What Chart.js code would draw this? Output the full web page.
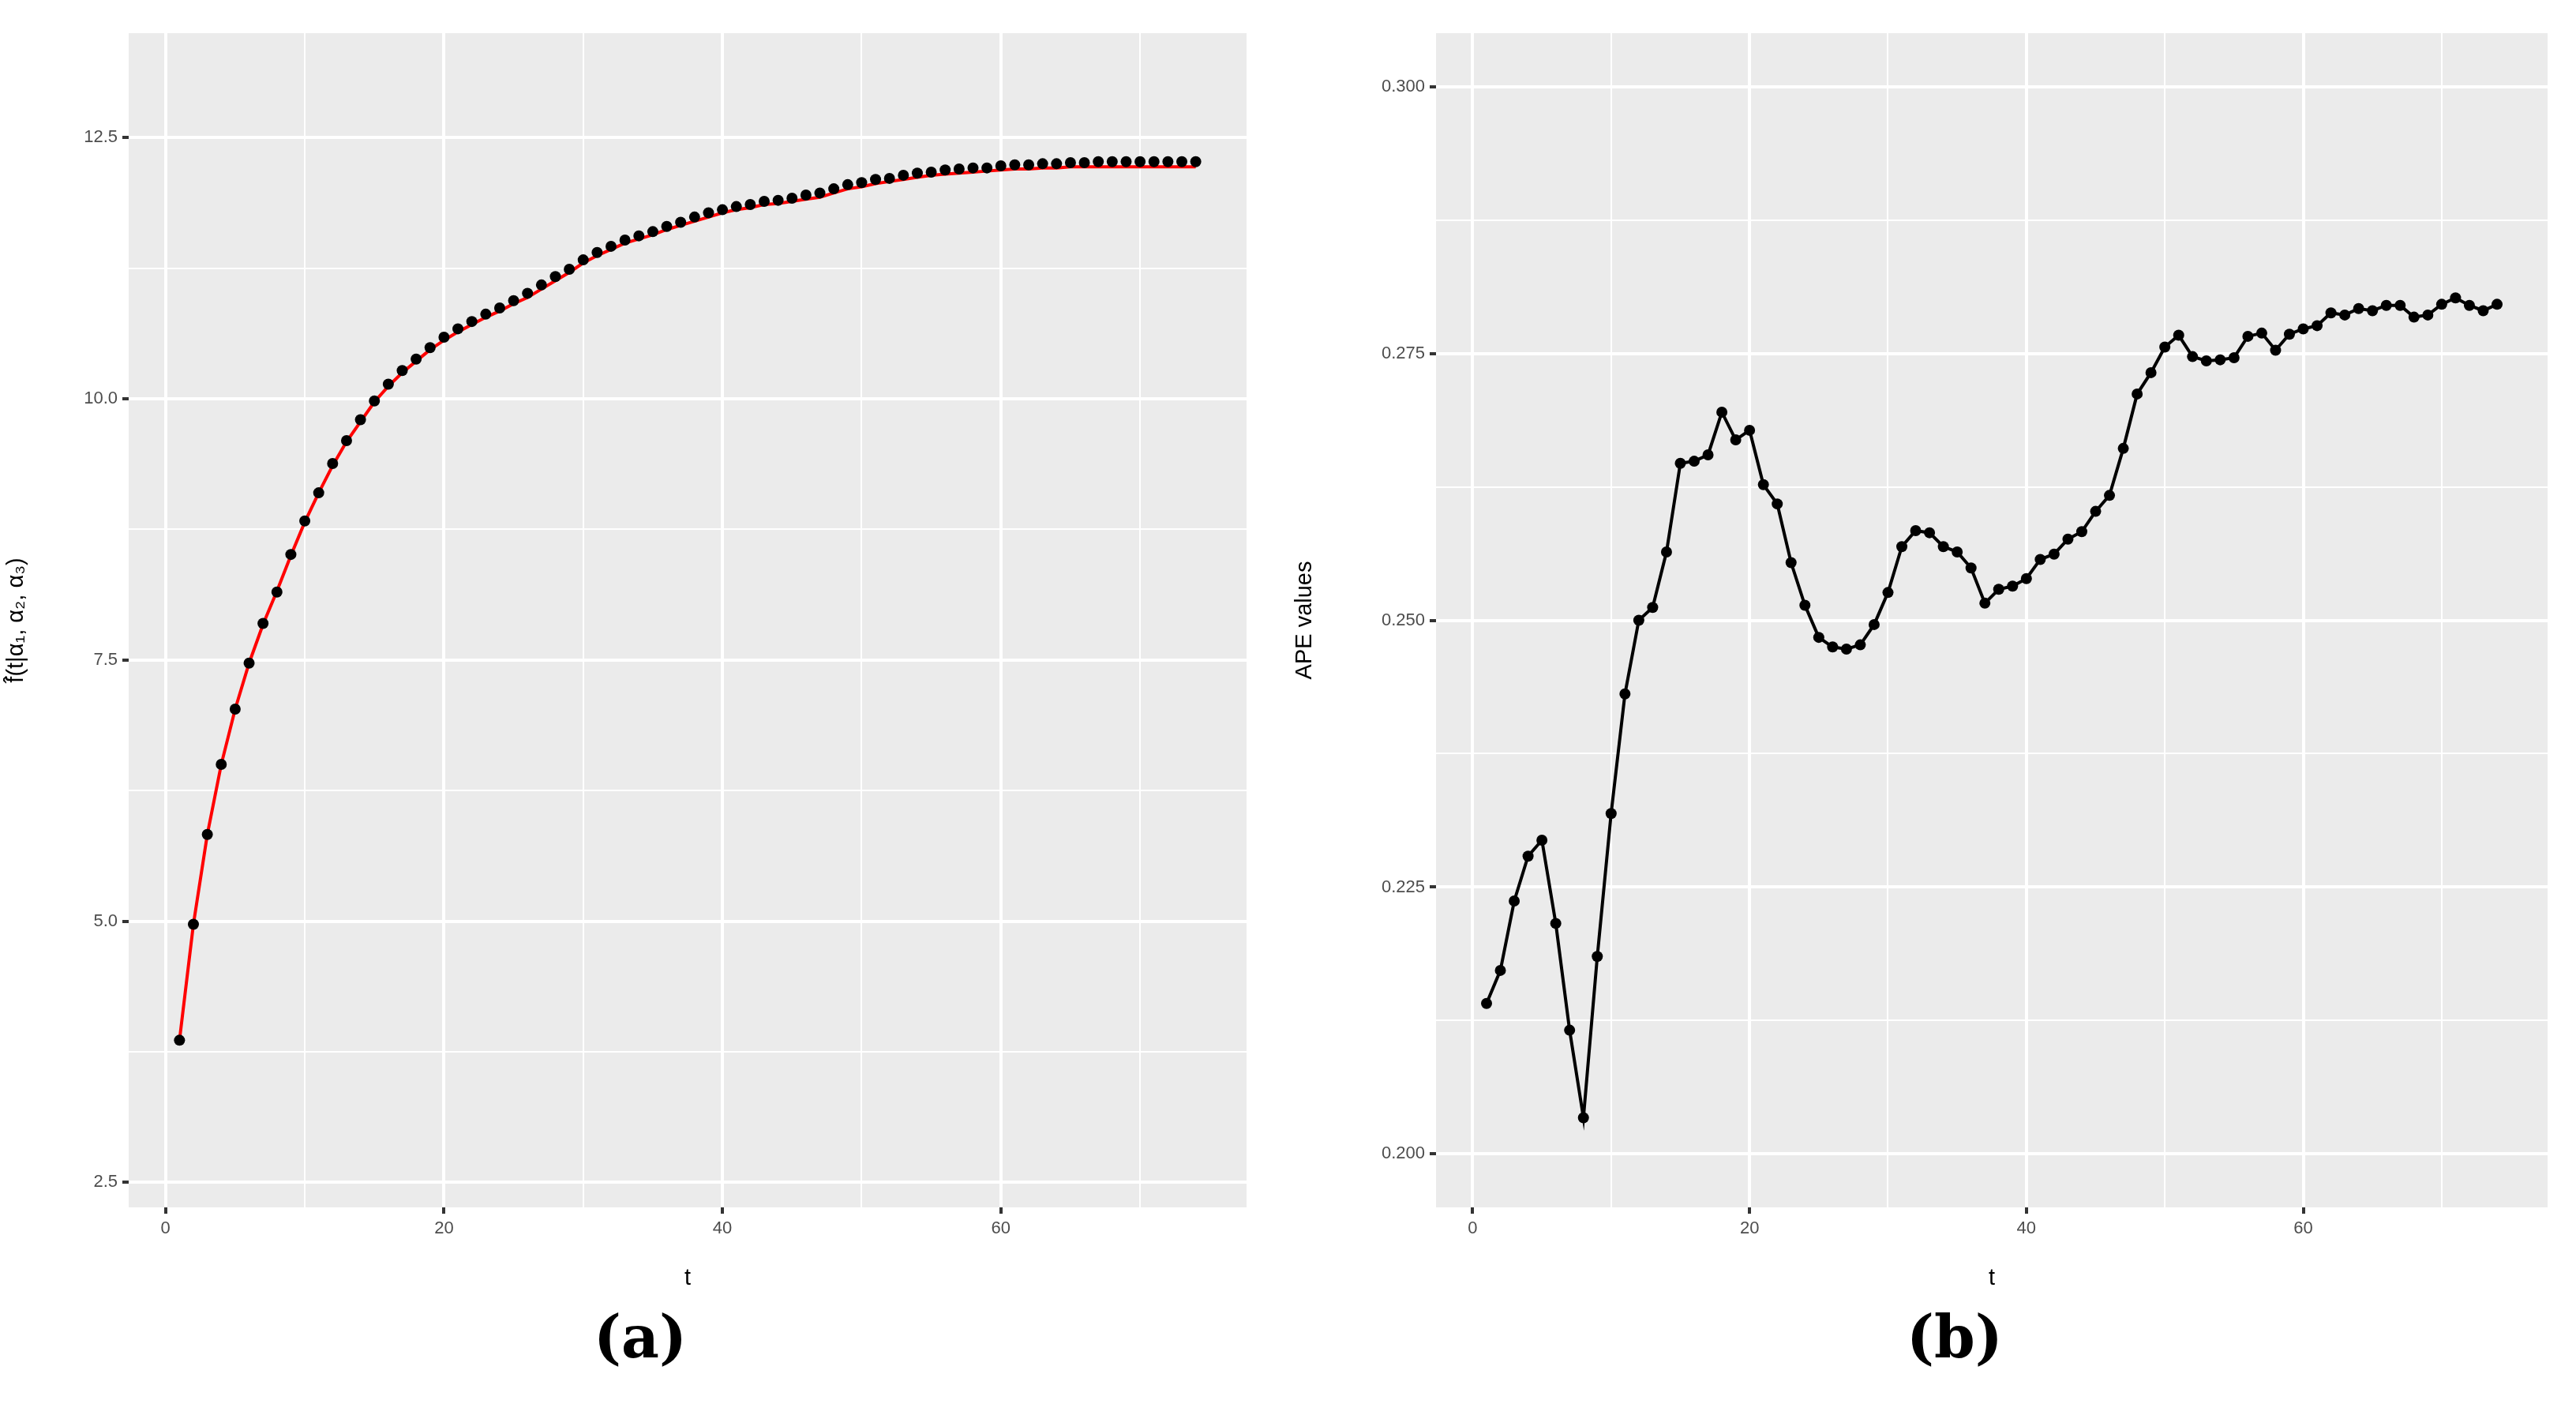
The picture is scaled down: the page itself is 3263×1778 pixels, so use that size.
<!DOCTYPE html>
<html>
<head>
<meta charset="utf-8">
<script src="https://cdn.jsdelivr.net/npm/chart.js@4.4.0/dist/chart.umd.min.js"></script>
<style>
  body { margin: 0; background: #fff; width: 3263px; height: 1778px; position: relative; overflow: hidden; }
  .panel { position: absolute; top: 0; }
  .etiqueta { position: absolute; top: 1650px; font-family: "DejaVu Serif", "Liberation Serif", serif; font-weight: bold; font-size: 74px; transform: translateX(-50%); }
</style>
</head>
<body>
<div class="panel" style="left:0;width:1632px;height:1640px"><canvas id="chartA"></canvas></div>
<div class="panel" style="left:1632px;width:1631px;height:1640px"><canvas id="chartB"></canvas></div>
<div class="etiqueta" style="left:811px">(a)</div>
<div class="etiqueta" style="left:2476px">(b)</div>
<script>
// Datos
const tiempos = Array.from({ length: 74 }, (_, i) => i + 1);

const puntosA = [3.86, 4.97, 5.83, 6.50, 7.03, 7.47, 7.85, 8.15, 8.51, 8.83,
    9.10, 9.38, 9.60, 9.80, 9.98, 10.14, 10.27, 10.38, 10.49, 10.59,
    10.67, 10.74, 10.81, 10.87, 10.94, 11.01, 11.09, 11.17, 11.24, 11.33,
    11.40, 11.46, 11.52, 11.56, 11.60, 11.65, 11.69, 11.74, 11.78, 11.81,
    11.84, 11.86, 11.89, 11.90, 11.92, 11.95, 11.97, 12.01, 12.05, 12.07,
    12.10, 12.11, 12.14, 12.16, 12.17, 12.19, 12.20, 12.21, 12.21, 12.23,
    12.24, 12.24, 12.25, 12.25, 12.26, 12.26, 12.27, 12.27, 12.27, 12.27,
    12.27, 12.27, 12.27, 12.27];

const ajusteA = [3.86, 4.97, 5.83, 6.50, 7.03, 7.47, 7.84, 8.16, 8.50, 8.82,
    9.10, 9.36, 9.59, 9.78, 9.97, 10.12, 10.25, 10.36, 10.47, 10.56,
    10.64, 10.71, 10.78, 10.84, 10.91, 10.97, 11.05, 11.13, 11.21, 11.30,
    11.37, 11.43, 11.49, 11.53, 11.57, 11.62, 11.66, 11.70, 11.74, 11.78,
    11.81, 11.83, 11.86, 11.87, 11.89, 11.91, 11.93, 11.97, 12.01, 12.03,
    12.06, 12.08, 12.10, 12.12, 12.14, 12.15, 12.16, 12.17, 12.18, 12.19,
    12.20, 12.20, 12.21, 12.21, 12.22, 12.22, 12.22, 12.22, 12.22, 12.22,
    12.22, 12.22, 12.22, 12.22];

const valoresB = [0.2141, 0.2172, 0.2237, 0.2279, 0.2294, 0.2216, 0.2116, 0.2034, 0.2185, 0.2319,
    0.2431, 0.2500, 0.2512, 0.2564, 0.2647, 0.2649, 0.2655, 0.2695, 0.2669, 0.2678,
    0.2627, 0.2609, 0.2554, 0.2514, 0.2484, 0.2475, 0.2473, 0.2477, 0.2496, 0.2526,
    0.2569, 0.2584, 0.2582, 0.2569, 0.2564, 0.2549, 0.2516, 0.2529, 0.2532, 0.2539,
    0.2557, 0.2562, 0.2576, 0.2583, 0.2602, 0.2617, 0.2661, 0.2712, 0.2732, 0.2756,
    0.2767, 0.2747, 0.2743, 0.2744, 0.2746, 0.2766, 0.2769, 0.2753, 0.2768, 0.2773,
    0.2776, 0.2788, 0.2786, 0.2792, 0.2790, 0.2795, 0.2795, 0.2784, 0.2786, 0.2796,
    0.2802, 0.2795, 0.2790, 0.2796];

const ticksX = [0, 10, 20, 30, 40, 50, 60, 70];
const etiquetasX = [0, 20, 40, 60];
const ticksYA = [2.5, 3.75, 5, 6.25, 7.5, 8.75, 10, 11.25, 12.5];
const etiquetasYA = [2.5, 5, 7.5, 10, 12.5];
const ticksYB = [0.2, 0.2125, 0.225, 0.2375, 0.25, 0.2625, 0.275, 0.2875, 0.3];
const etiquetasYB = [0.2, 0.225, 0.25, 0.275, 0.3];

const fondoPanel = {
    id: 'fondoPanel',
    beforeDraw(chart) {
        const a = chart.chartArea;
        chart.ctx.save();
        chart.ctx.fillStyle = '#EBEBEB';
        chart.ctx.fillRect(a.left, a.top, a.right - a.left, a.bottom - a.top);
        chart.ctx.restore();
    }
};

function esMayor(lista, v) {
    return lista.some(x => Math.abs(x - v) < 1e-9);
}

function ejeX() {
    return {
        type: 'linear', min: -2.65, max: 77.65,
        afterBuildTicks: s => { s.ticks = ticksX.map(v => ({ value: v })); },
        afterFit: s => { s.height = 111; },
        grid: {
            color: '#FFFFFF',
            lineWidth: c => esMayor(etiquetasX, c.tick.value) ? 4 : 2,
            tickColor: c => esMayor(etiquetasX, c.tick.value) ? '#333333' : 'rgba(0,0,0,0)',
            tickLength: 8, drawTicks: true
        },
        border: { display: false },
        ticks: {
            autoSkip: false, maxRotation: 0, padding: 6,
            color: '#4D4D4D', font: { family: 'Liberation Sans', size: 22 },
            callback: v => esMayor(etiquetasX, v) ? String(v) : ''
        },
        title: { display: true, text: 't', color: '#000', font: { family: 'Liberation Sans', size: 29 }, padding: { top: 2 } }
    };
}

function ejeY(min, max, ticks, etiquetas, decimales, ancho, titulo) {
    return {
        type: 'linear', min: min, max: max,
        afterBuildTicks: s => { s.ticks = ticks.map(v => ({ value: v })); },
        afterFit: s => { s.width = ancho; },
        grid: {
            color: '#FFFFFF',
            lineWidth: c => esMayor(etiquetas, c.tick.value) ? 4 : 2,
            tickColor: c => esMayor(etiquetas, c.tick.value) ? '#333333' : 'rgba(0,0,0,0)',
            tickLength: 8
        },
        border: { display: false },
        ticks: {
            autoSkip: false, padding: 6,
            color: '#4D4D4D', font: { family: 'Liberation Sans', size: 22 },
            callback: v => esMayor(etiquetas, v) ? Number(v).toFixed(decimales) : ''
        },
        title: { display: true, text: titulo, color: '#000', font: { family: 'Liberation Sans', size: 29 }, padding: { bottom: 4 } }
    };
}

const puntoNegro = { pointRadius: 7, pointBackgroundColor: '#000', pointBorderWidth: 0, pointHoverRadius: 7 };

new Chart(document.getElementById('chartA'), {
    type: 'line',
    data: {
        datasets: [{
            label: 'Observado',
            data: tiempos.map((t, i) => ({ x: t, y: puntosA[i] })),
            showLine: false, ...puntoNegro
        }, {
            label: 'Ajuste',
            data: tiempos.map((t, i) => ({ x: t, y: ajusteA[i] })),
            borderColor: '#FF0000', borderWidth: 4, pointRadius: 0, tension: 0
        }]
    },
    options: {
        responsive: true, maintainAspectRatio: false, animation: false,
        layout: { padding: { top: 42, right: 53, left: 0, bottom: 0 } },
        plugins: { legend: { display: false }, tooltip: { enabled: false } },
        scales: {
            x: ejeX(),
            y: ejeY(2.26, 13.5, ticksYA, etiquetasYA, 1, 163, 'f\u0302(t|\u03B1\u2081, \u03B1\u2082, \u03B1\u2083)')
        }
    },
    plugins: [fondoPanel]
});

new Chart(document.getElementById('chartB'), {
    type: 'line',
    data: {
        datasets: [{
            label: 'APE',
            data: tiempos.map((t, i) => ({ x: t, y: valoresB[i] })),
            borderColor: '#000', borderWidth: 4, tension: 0, ...puntoNegro
        }]
    },
    options: {
        responsive: true, maintainAspectRatio: false, animation: false,
        layout: { padding: { top: 42, right: 36, left: 0, bottom: 0 } },
        plugins: { legend: { display: false }, tooltip: { enabled: false } },
        scales: {
            x: ejeX(),
            y: ejeY(0.195, 0.305, ticksYB, etiquetasYB, 3, 187, 'APE values')
        }
    },
    plugins: [fondoPanel]
});
</script>
</body>
</html>
